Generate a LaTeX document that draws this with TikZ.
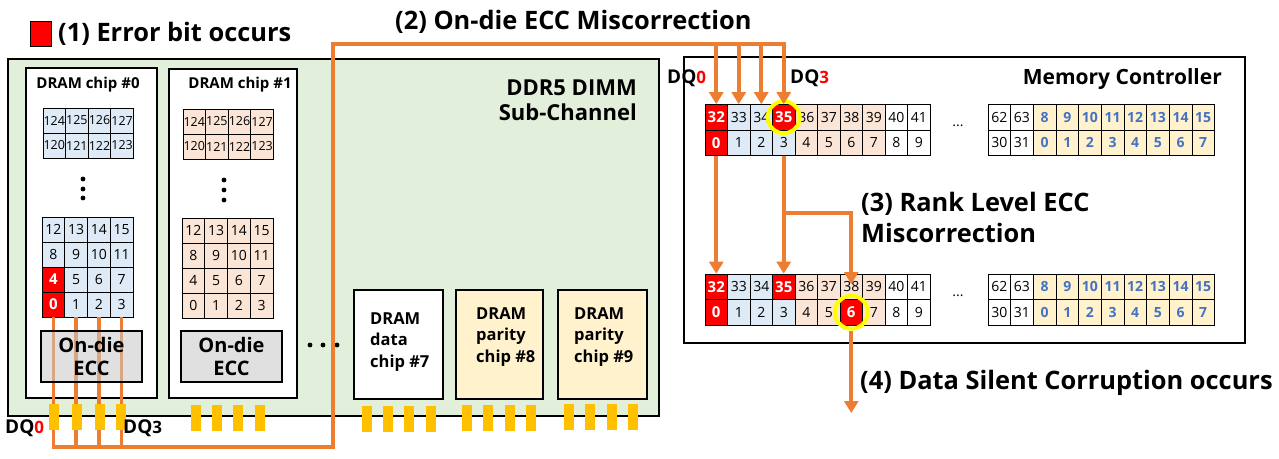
\documentclass[tikz,border=0pt]{standalone}
\usepackage{fontspec}
\setmainfont{Open Sans}
\usetikzlibrary{arrows.meta}
\definecolor{dimmgreen}{HTML}{E2EFDA}
\definecolor{cblue}{HTML}{DEEBF7}
\definecolor{corange}{HTML}{FBE5D6}
\definecolor{cyel}{HTML}{FFF2CC}
\definecolor{pinyel}{HTML}{FFC000}
\definecolor{wirec}{HTML}{ED7D31}
\definecolor{errred}{HTML}{FF0000}
\definecolor{numblue}{HTML}{4472C4}
\definecolor{eccgray}{HTML}{C8C8C8}
\definecolor{hl}{HTML}{FFFF00}
\newcommand{\fs}[1]{\fontsize{#1}{#1}\selectfont}
\newcommand{\mcgrid}[6]{%
 \foreach \c in {0,...,9}{%
  \pgfmathtruncatemacro{\hv}{32+\c}%
  \ifnum\c<4 \def\bg{cblue}\else\ifnum\c<8 \def\bg{corange}\else\def\bg{white}\fi\fi
  \edef\fc{\bg}\def\tc{black}\def\ff{\fs{14}}%
  \ifnum\c=#3\relax \def\fc{errred}\def\tc{white}\def\ff{\fs{15}\bfseries}\fi
  \ifnum\c=#4\relax \def\fc{errred}\def\tc{white}\def\ff{\fs{15}\bfseries}\fi
  \node[mcell, fill=\fc, text=\tc, font=\ff] (#1u\c) at ({705+22.5*(\c+0.5)},{#2+12.75}) {\hv};
  \edef\fc{\bg}\def\tc{black}\def\ff{\fs{14}}%
  \ifnum\c=#5\relax \def\fc{errred}\def\tc{white}\def\ff{\fs{15}\bfseries}\fi
  \ifnum\c=#6\relax \def\fc{errred}\def\tc{white}\def\ff{\fs{15}\bfseries}\fi
  \node[mcell, fill=\fc, text=\tc, font=\ff] (#1l\c) at ({705+22.5*(\c+0.5)},{#2+38.25}) {\c};
 }}
\newcommand{\rgrid}[2]{%
 \foreach \c/\u/\l in {0/62/30,1/63/31,2/8/0,3/9/1,4/10/2,5/11/3,6/12/4,7/13/5,8/14/6,9/15/7}{%
  \ifnum\c<2 \def\fc{white}\def\tc{black}\def\ff{\fs{14}}\else\def\fc{cyel}\def\tc{numblue}\def\ff{\fs{14}\bfseries}\fi
  \node[mcell, minimum width=22.65pt, fill=\fc, text=\tc, font=\ff] (#1u\c) at ({988+22.65*(\c+0.5)},{#2+12.75}) {\u};
  \node[mcell, minimum width=22.65pt, fill=\fc, text=\tc, font=\ff] (#1l\c) at ({988+22.65*(\c+0.5)},{#2+38.25}) {\l};
 }}
\newcommand{\topgrid}[4]{% name, x0, y0, fill
 \foreach \r in {0,1}{\foreach \c in {0,1,2,3}{%
  \pgfmathtruncatemacro{\v}{124-4*\r+\c}%
  \node[tcell, fill=#4] (#1-\v) at ({#2+22.6*(\c+0.5)},{#3+25*(\r+0.5)}) {\v};
 }}}
\newcommand{\botgrid}[5]{% name, x0, y0, fill, haserr
 \foreach \r in {0,1,2,3}{\foreach \c in {0,1,2,3}{%
  \pgfmathtruncatemacro{\v}{4*(3-\r)+\c}%
  \def\fc{#4}\def\tc{black}\def\ff{\fs{14}}%
  \ifnum#5=1 \ifnum\c=0 \ifnum\r>1 \def\fc{errred}\def\tc{white}\def\ff{\fs{15}\bfseries}\fi\fi\fi
  \node[bcell, fill=\fc, text=\tc, font=\ff] (#1-\v) at ({#2+22.75*(\c+0.5)},{#3+25*(\r+0.5)}) {\v};
 }}}
\begin{document}
\begin{tikzpicture}[x=1pt,y=-1pt,
  frame/.style={draw=black, line width=1.8pt},
  chipbox/.style={frame, fill=white, inner sep=0pt},
  tcell/.style={draw=black, line width=0.7pt, inner sep=0pt, minimum width=22.6pt, minimum height=25pt, font=\fs{12.5}},
  bcell/.style={draw=black, line width=0.7pt, inner sep=0pt, minimum width=22.75pt, minimum height=25pt},
  mcell/.style={draw=black, line width=0.7pt, inner sep=0pt, minimum width=22.5pt, minimum height=25.5pt},
  eccbox/.style={draw=black, line width=1.8pt, fill=eccgray, fill opacity=0.55, text opacity=1, minimum width=101pt, minimum height=51pt, align=center, font=\fontsize{20}{23}\selectfont\bfseries},
  pin/.style={fill=pinyel, inner sep=0pt, minimum width=10pt, minimum height=26pt},
  wire/.style={draw=wirec, line width=3.6pt, line join=miter},
  arr/.style={-{Triangle[width=14pt,length=12pt]}},
  hlc/.style={circle, draw=hl, line width=4pt, minimum size=32pt, inner sep=0pt},
  title/.style={inner sep=0pt, font=\fs{25.4}\bfseries},
  dq/.style={inner sep=0pt, anchor=west, font=\fs{19}\bfseries},
  chiptitle/.style={inner sep=0pt, font=\fs{15}\bfseries},
  smallchip/.style={chipbox, minimum width=89pt, minimum height=109pt},
  chiptext/.style={inner sep=0pt, anchor=west, align=left, font=\fontsize{16.5}{21.5}\selectfont\bfseries},
  dot/.style={fill=black}
]
\useasboundingbox (0,0) rectangle (1279,458);

% legend and title 1
\node[draw=black, line width=0.5pt, fill=errred, minimum width=21pt, minimum height=25pt, inner sep=0pt] (legend) at (40.5,34) {};
\node[title, anchor=west] (t1) at (58,34) {(1) Error bit occurs};
\node[title, anchor=west] (t2) at (395,22) {(2) On-die ECC Miscorrection};

% DIMM
\node[frame, fill=dimmgreen, minimum width=651pt, minimum height=357pt, inner sep=0pt, anchor=north west] (dimm) at (7,58) {};
\node[inner sep=0pt, anchor=east, align=right, font=\fontsize{22}{25}\selectfont\bfseries] (dimmlbl) at (637,100) {DDR5 DIMM\\Sub-Channel};

% chip #0 and #1
\node[chipbox, minimum width=131pt, minimum height=330pt, anchor=north west] (chip0) at (25,67) {};
\node[chipbox, minimum width=128pt, minimum height=329pt, anchor=north west] (chip1) at (168,68) {};
\node[chiptitle] (chip0t) at (88,85) {DRAM chip \#0};
\node[chiptitle] (chip1t) at (240,85) {DRAM chip \#1};
\topgrid{a0}{43}{108}{cblue}
\topgrid{a1}{183}{109}{corange}
\foreach \yy in {179,189,198}{\fill[dot] (83,\yy) circle (2.4pt);}
\foreach \yy in {180,190,200}{\fill[dot] (224,\yy) circle (2.4pt);}
\botgrid{g0}{42}{217}{cblue}{1}
\botgrid{g1}{182}{218}{corange}{0}

% more chips
\node[smallchip, anchor=north west] (chip7) at (353,289) {};
\node[smallchip, fill=cyel, minimum width=87pt, anchor=north west] (chip8) at (455,289) {};
\node[smallchip, fill=cyel, anchor=north west] (chip9) at (557,289) {};
\node[chiptext] (chip7t) at (370,342) {DRAM\\data\\chip \#7};
\node[chiptext] (chip8t) at (476,337) {DRAM\\parity\\chip \#8};
\node[chiptext] (chip9t) at (574,337) {DRAM\\parity\\chip \#9};
\foreach \xx in {310,323,337}{\fill[dot] (\xx,345) circle (2.4pt);}

% wires from chip 0
\coordinate (busbot) at (333,447);
\coordinate (bustop) at (333,44);
\foreach \k in {1,2,3}{\draw[wire] (g0-\k.south) -- (g0-\k.south |- busbot);}

% Memory controller
\node[frame, fill=white, minimum width=561pt, minimum height=286pt, inner sep=0pt, anchor=north west] (mc) at (683,56) {};
\node[inner sep=0pt, anchor=east, font=\fs{21}\bfseries] (mclbl) at (1222,79) {Memory Controller};
\mcgrid{t}{104.5}{0}{3}{0}{-1}
\mcgrid{b}{274}{0}{3}{0}{6}
\rgrid{rt}{104.5}
\rgrid{rb}{274}
\node[inner sep=0pt, font=\fs{14}] (ell1) at (958,126) {...};
\node[inner sep=0pt, font=\fs{14}] (ell2) at (958,296) {...};
\node[hlc] (hl1) at (tu3.center) {};
\node[hlc, minimum size=33pt] (hl2) at (bl6.center) {};

\draw[wire, arr] (g0-0.south) |- (busbot) -- (bustop) -| (tu3.north);
\foreach \k in {0,1,2}{\draw[wire, arr] (tu\k.north |- bustop) -- (tu\k.north);}
\draw[wire, arr] (tl0.south) -- (bu0.north);
\draw[wire, arr] (tl3.south) -- (bu3.north);
\coordinate (rk) at (783.75,213);
\coordinate (rkend) at (851.25,284);
\draw[wire, arr] (rk) -| (rkend);
\coordinate (out) at (851.25,413);
\draw[wire, arr] (hl2.south) -- (out);

% ECC boxes (translucent over wires)
\node[eccbox] (ecc0) at (91.5,356.5) {On-die\\ECC};
\node[eccbox] (ecc1) at (231.5,356.5) {On-die\\ECC};

% pins
\foreach \xx [count=\i] in {54,77,99.5,121}{\node[pin] (p0-\i) at (\xx,417) {};}
\foreach \xx [count=\i] in {196,217,238,260}{\node[pin] (p1-\i) at (\xx,417.5) {};}
\foreach \xx [count=\i] in {367,388,409,431}{\node[pin] (p7-\i) at (\xx,418.5) {};}
\foreach \xx [count=\i] in {467,488,509.5,531}{\node[pin] (p8-\i) at (\xx,417.5) {};}
\foreach \xx [count=\i] in {569,590,612,633}{\node[pin] (p9-\i) at (\xx,416.5) {};}

% DQ labels
\node[dq] (dqa) at (5,428) {DQ{\fs{17}\color{errred}0}};
\node[dq] (dqb) at (123,428) {DQ{\fs{17}3}};
\node[dq] (dqc) at (667,78) {DQ{\fs{17}\color{errred}0}};
\node[dq] (dqd) at (790,78) {DQ{\fs{17}\color{errred}3}};

% step labels
\node[title, anchor=west, align=left, font=\fontsize{25.4}{31}\selectfont\bfseries] (t3) at (861,217) {(3) Rank Level ECC\\Miscorrection};
\node[title, anchor=west] (t4) at (860,383) {(4) Data Silent Corruption occurs};
\end{tikzpicture}
\end{document}
